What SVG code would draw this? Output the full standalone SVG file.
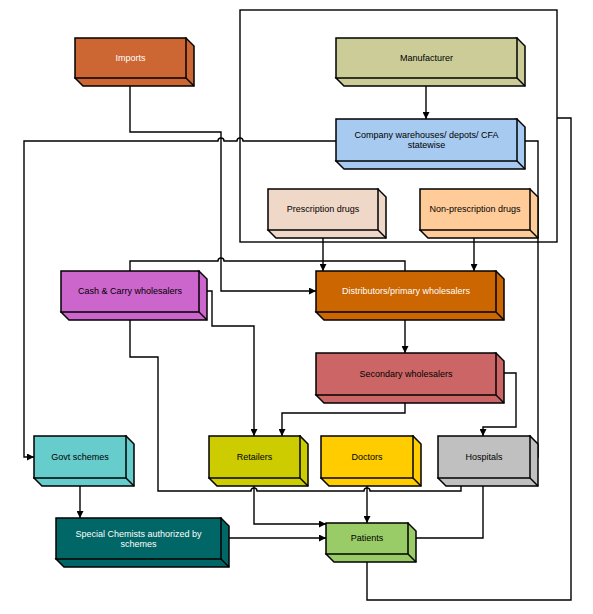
<svg xmlns="http://www.w3.org/2000/svg" width="593" height="614" viewBox="0 0 593 614">
<defs>
<marker id="ah" markerUnits="userSpaceOnUse" viewBox="0 0 8 8" refX="8" refY="4" markerWidth="8" markerHeight="7" orient="auto">
<path d="M0,0 L8,4 L0,8 z" fill="#000"/>
</marker>
</defs>
<style>
.box{stroke:#000;stroke-width:1.5;stroke-linejoin:miter}
.edge{fill:none;stroke:#000;stroke-width:1.4}
.c{fill:none;stroke:#000;stroke-width:1.4;stroke-linejoin:miter}
.a{marker-end:url(#ah)}
text{font-family:"Liberation Sans",Arial,sans-serif;font-size:9px;text-anchor:middle}
.w{fill:#fff}
.k{fill:#000}
</style>
<rect x="0" y="0" width="593" height="614" fill="#fff"/>

<g id="connectors">
<rect class="c" x="240" y="10" width="317" height="232"/>
<path class="c a" d="M426,78 V119"/>
<path class="c a" d="M130,78 V132 H221 V291 H316"/>
<path class="c a" d="M336,141 H243 A3,3 0 0 0 237,141 H224 A3,3 0 0 0 218,141 H24 V457 H34"/>
<path class="c a" d="M517,141 H538 V457 H530"/>
<path class="c a" d="M557,118 H571 V600 H367 V554"/>
<path class="c a" d="M323,230 V271"/>
<path class="c a" d="M474,230 V271"/>
<path class="c" d="M130,271 V261 H218 A3,3 0 0 1 224,261 H405 V271"/>
<path class="c a" d="M405,312 V353"/>
<path class="c a" d="M199,291 H212 V326 H254 V436"/>
<path class="c a" d="M130,312 V357 H158 V491 H251 A3,3 0 0 1 257,491 H364 A3,3 0 0 1 370,491 H461 V479"/>
<path class="c a" d="M405,395 V413 H282 V436"/>
<path class="c a" d="M496,373 H516 V427 H483 V436"/>
<path class="c a" d="M80,478 V518"/>
<path class="c a" d="M254,478 V524 H326"/>
<path class="c a" d="M367,478 V523"/>
<path class="c a" d="M221,538 H326"/>
<path class="c a" d="M483,478 V538 H408"/>
</g>

<g id="imports">
<path class="box" fill="#CC6633" d="M75,78 l8,8 h111 v-40 l-8,-8 z"/>
<rect class="box" fill="#CC6633" x="75" y="38" width="111" height="40"/>
<path class="edge" d="M186,78 l8,8"/>
<text class="w" x="130.5" y="61">Imports</text>
</g>

<g id="manufacturer">
<path class="box" fill="#CCCC99" d="M336,78 l8,8 h181 v-40 l-8,-8 z"/>
<rect class="box" fill="#CCCC99" x="336" y="38" width="181" height="40"/>
<path class="edge" d="M517,78 l8,8"/>
<text class="k" x="426.5" y="61">Manufacturer</text>
</g>

<g id="company">
<path class="box" fill="#A6CAF0" d="M336,161 l8,8 h181 v-42 l-8,-8 z"/>
<rect class="box" fill="#A6CAF0" x="336" y="119" width="181" height="42"/>
<path class="edge" d="M517,161 l8,8"/>
<text class="k" x="426.5" y="138">Company warehouses/ depots/ CFA</text>
<text class="k" x="426.5" y="148">statewise</text>
</g>

<g id="prescription">
<path class="box" fill="#F0D8C8" d="M268,230 l8,8 h110 v-41 l-8,-8 z"/>
<rect class="box" fill="#F0D8C8" x="268" y="189" width="110" height="41"/>
<path class="edge" d="M378,230 l8,8"/>
<text class="k" x="323" y="212">Prescription drugs</text>
</g>

<g id="nonprescription">
<path class="box" fill="#FFCC99" d="M420,230 l8,8 h110 v-41 l-8,-8 z"/>
<rect class="box" fill="#FFCC99" x="420" y="189" width="110" height="41"/>
<path class="edge" d="M530,230 l8,8"/>
<text class="k" x="475" y="212">Non-prescription drugs</text>
</g>

<g id="distributors">
<path class="box" fill="#CC6600" d="M316,312 l8,8 h180 v-41 l-8,-8 z"/>
<rect class="box" fill="#CC6600" x="316" y="271" width="180" height="41"/>
<path class="edge" d="M496,312 l8,8"/>
<text class="w" x="406" y="294">Distributors/primary wholesalers</text>
</g>

<g id="cashcarry">
<path class="box" fill="#CC66CC" d="M61,312 l8,8 h138 v-41 l-8,-8 z"/>
<rect class="box" fill="#CC66CC" x="61" y="271" width="138" height="41"/>
<path class="edge" d="M199,312 l8,8"/>
<text class="k" x="130" y="294">Cash &amp; Carry wholesalers</text>
</g>

<g id="secondary">
<path class="box" fill="#CC6666" d="M316,395 l8,8 h180 v-42 l-8,-8 z"/>
<rect class="box" fill="#CC6666" x="316" y="353" width="180" height="42"/>
<path class="edge" d="M496,395 l8,8"/>
<text class="k" x="406" y="377">Secondary wholesalers</text>
</g>

<g id="govt">
<path class="box" fill="#66CCCC" d="M34,478 l8,8 h92 v-42 l-8,-8 z"/>
<rect class="box" fill="#66CCCC" x="34" y="436" width="92" height="42"/>
<path class="edge" d="M126,478 l8,8"/>
<text class="k" x="80" y="460">Govt schemes</text>
</g>

<g id="retailers">
<path class="box" fill="#CCCC00" d="M209,478 l8,8 h91 v-42 l-8,-8 z"/>
<rect class="box" fill="#CCCC00" x="209" y="436" width="91" height="42"/>
<path class="edge" d="M300,478 l8,8"/>
<text class="k" x="254.5" y="460">Retailers</text>
</g>

<g id="doctors">
<path class="box" fill="#FFCC00" d="M321,478 l8,8 h92 v-42 l-8,-8 z"/>
<rect class="box" fill="#FFCC00" x="321" y="436" width="92" height="42"/>
<path class="edge" d="M413,478 l8,8"/>
<text class="k" x="367" y="460">Doctors</text>
</g>

<g id="hospitals">
<path class="box" fill="#C0C0C0" d="M438,478 l8,8 h92 v-42 l-8,-8 z"/>
<rect class="box" fill="#C0C0C0" x="438" y="436" width="92" height="42"/>
<path class="edge" d="M530,478 l8,8"/>
<text class="k" x="484" y="460">Hospitals</text>
</g>

<g id="special">
<path class="box" fill="#006666" d="M56,559 l8,8 h165 v-41 l-8,-8 z"/>
<rect class="box" fill="#006666" x="56" y="518" width="165" height="41"/>
<path class="edge" d="M221,559 l8,8"/>
<text class="w" x="138.5" y="537">Special Chemists authorized by</text>
<text class="w" x="138.5" y="547">schemes</text>
</g>

<g id="patients">
<path class="box" fill="#99CC66" d="M326,554 l8,8 h82 v-31 l-8,-8 z"/>
<rect class="box" fill="#99CC66" x="326" y="523" width="82" height="31"/>
<path class="edge" d="M408,554 l8,8"/>
<text class="k" x="367" y="541">Patients</text>
</g>
</svg>
